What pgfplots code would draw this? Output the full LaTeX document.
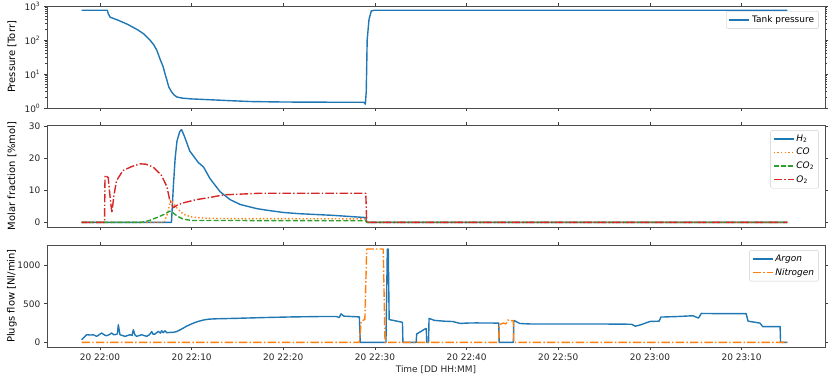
\documentclass[border=0pt]{standalone}
\usepackage{fontspec}
\setmainfont{DejaVu Sans}
\usepackage{pgfplots}
\pgfplotsset{compat=1.18}
\definecolor{c0}{HTML}{1F77B4}
\definecolor{c1}{HTML}{FF7F0E}
\definecolor{c2}{HTML}{2CA02C}
\definecolor{c3}{HTML}{D62728}
\newcommand{\fs}{\fontsize{9}{10.5}\selectfont}
\pgfplotsset{
  base/.style={
    scale only axis, width=778bp, height=102bp,
    xmin=-5.78, xmax=79.1,
    xtick={0,10,20,30,40,50,60,70},
    tick align=outside, major tick length=3.2bp, minor tick length=1.8bp,
    axis line style={black!70, line width=0.8bp},
    every tick/.style={black!75, line width=0.6bp},
    tick label style={font=\fs, text=black!85},
    /pgf/number format/assume math mode=true,
    /pgf/number format/1000 sep={},
    label style={font=\fs, text=black!85},
    every axis y label/.style={at={(axis description cs:-0.045,0.5)}, rotate=90, anchor=center},
    legend style={font=\fs, draw=black!20, fill=white, rounded corners=2pt, at={(0.992,0.95)}, anchor=north east, row sep=1.5bp, inner sep=2.5bp},
    legend cell align=left,
    legend image code/.code={\draw[##1] (0bp,0bp) -- (20bp,0bp);},
  },
  pl/.style={line width=1.4bp, line join=round},
  dotted2/.style={dash pattern=on 1.4bp off 2.2bp},
  dashed2/.style={dash pattern=on 5bp off 2.2bp},
  dashdot2/.style={dash pattern=on 8.5bp off 2.2bp on 1.4bp off 2.2bp},
}
\begin{document}
\begin{tikzpicture}
\path[use as bounding box] (-47bp,0bp) rectangle (784bp,-378bp);
% ---------------- Top: pressure
\begin{axis}[base, at={(0bp,-6bp)}, anchor=north west,
  ymode=log, ymin=1, ymax=1000, ytick={1,10,100,1000},
  yticklabels={10\textsuperscript{0},10\textsuperscript{1},10\textsuperscript{2},10\textsuperscript{3}},
  xticklabels={}, ylabel={Pressure [Torr]}]
\addplot[c0, pl] coordinates {(-2,750) (0.8,750) (0.9,600) (1.1,470) (2,380) (3,290) (4.1,200) (4.8,150) (5.45,100) (5.9,70) (6.2,50) (6.5,30) (6.9,16) (7.1,10) (7.3,6.6) (7.5,4.2) (7.8,3) (8.1,2.4) (8.4,2.1) (9,1.95) (10,1.85) (12,1.75) (14,1.65) (16.4,1.55) (20,1.5) (25,1.48) (28.8,1.48) (28.95,1.3) (29.05,3) (29.15,100) (29.35,400) (29.6,720) (30,750) (75,750)};
\addlegendentry{Tank pressure}
\end{axis}
% ---------------- Middle: molar fraction
\begin{axis}[base, at={(0bp,-125bp)}, anchor=north west,
  ymin=-1.45, ymax=30.45, ytick={0,10,20,30},
  xticklabels={}, ylabel={Molar fraction [\%mol]}]
\addplot[c0, pl] coordinates {(-2,0) (7.8,0) (8.0,11) (8.2,20) (8.4,25.4) (8.7,28.4) (8.9,29) (9.2,27) (9.8,22.3) (10.7,18.8) (11.3,17.3) (12,13.7) (13.1,9.6) (14.2,7.1) (15.3,5.6) (17.1,4.3) (18.2,3.8) (20,3.1) (21.8,2.7) (25.4,2.2) (29,1.5) (29.1,0) (75,0)};
\addlegendentry{\textit{H}\textsubscript{2}}
\addplot[c1, pl, dotted2] coordinates {(-2,0) (7.0,0) (7.4,3) (7.7,7) (8.0,6) (8.4,4.5) (9.1,2.5) (10,1.7) (11.5,1.3) (13,1.2) (29,1.1) (29.1,0) (75,0)};
\addlegendentry{\textit{CO}}
\addplot[c2, pl, dashed2] coordinates {(-2,0) (4.5,0) (5.3,0.5) (6.2,1.5) (7.0,2.5) (7.6,3.5) (7.8,3.4) (8.4,2) (9.1,1) (10,0.6) (29,0.5) (29.1,0) (75,0)};
\addlegendentry{\textit{CO}\textsubscript{2}}
\addplot[c3, pl, dashdot2] coordinates {(-2,0) (0.5,0) (0.55,14.7) (0.9,14) (1.1,8) (1.3,3) (1.5,8) (1.8,13) (2.5,16.2) (3.5,17.5) (4.4,18.3) (5.0,18.2) (5.8,17.3) (6.7,14.7) (7.3,11.2) (7.6,7.1) (8.0,4.6) (8.5,5.5) (9.1,6.1) (10.5,7.1) (12,7.8) (13.5,8.6) (17.4,9.1) (20,9.1) (29,9.1) (29.1,0) (75,0)};
\addlegendentry{\textit{O}\textsubscript{2}}
\end{axis}
% ---------------- Bottom: plugs flow
\begin{axis}[base, at={(0bp,-245bp)}, anchor=north west,
  ymin=-60, ymax=1262, ytick={0,500,1000},
  xticklabels={20 22:00,20 22:10,20 22:20,20 22:30,20 22:40,20 22:50,20 23:00,20 23:10},
  ylabel={Plugs flow [Nl/min]}, xlabel={Time [DD HH:MM]},
  xlabel style={yshift=2bp}]
\addplot[c0, pl] coordinates {(-2.0,35) (-1.7,70) (-1.45,99) (-1.0,95) (-0.73,99) (-0.36,78) (0.18,121) (0.5,95) (0.73,86) (1.0,100) (1.27,121) (1.5,100) (1.64,99) (1.9,110) (2.0,229) (2.18,99) (2.73,78) (3.27,99) (3.5,90) (3.64,164) (3.8,100) (4.0,78) (4.55,99) (5.09,78) (5.4,100) (5.64,140) (5.8,105) (6.0,108) (6.36,142) (6.6,120) (6.73,151) (6.9,125) (7.09,150) (7.3,125) (7.63,129) (8.0,130) (8.36,140) (8.91,173) (9.45,210) (10.2,250) (10.7,271) (11.3,290) (11.8,300) (12.5,305) (15,312) (18,322) (21,330) (24,335) (25.8,335) (26.1,322) (26.3,370) (26.6,340) (28.3,330) (28.4,0) (31.2,0) (31.35,1210) (31.45,1210) (31.55,295) (32,285) (33.0,260) (33.05,0) (34.5,0) (34.55,110) (35.0,140) (35.4,170) (35.6,180) (35.65,0) (35.85,0) (35.9,310) (36.5,285) (37.5,275) (38.5,270) (39.3,245) (40,250) (41,252) (43.5,250) (43.55,0) (45.1,0) (45.15,285) (45.8,245) (47,238) (50,238) (55,238) (58,235) (58.4,210) (59,228) (60,271) (61,275) (61.2,328) (63,335) (64.7,345) (65.3,315) (65.6,375) (68,372) (70.5,372) (70.7,275) (72,250) (72.3,205) (74.2,205) (74.25,0) (75,0)};
\addlegendentry{\textit{Argon}}
\addplot[c1, pl, dashdot2] coordinates {(-2,0) (28.3,0) (28.5,270) (28.9,300) (29.1,1210) (30.9,1210) (31.1,0) (43.5,0) (43.55,230) (44.0,250) (44.3,240) (44.5,290) (44.8,280) (45.1,280) (45.15,0) (75,0)};
\addlegendentry{\textit{Nitrogen}}
\end{axis}
\end{tikzpicture}
\end{document}
